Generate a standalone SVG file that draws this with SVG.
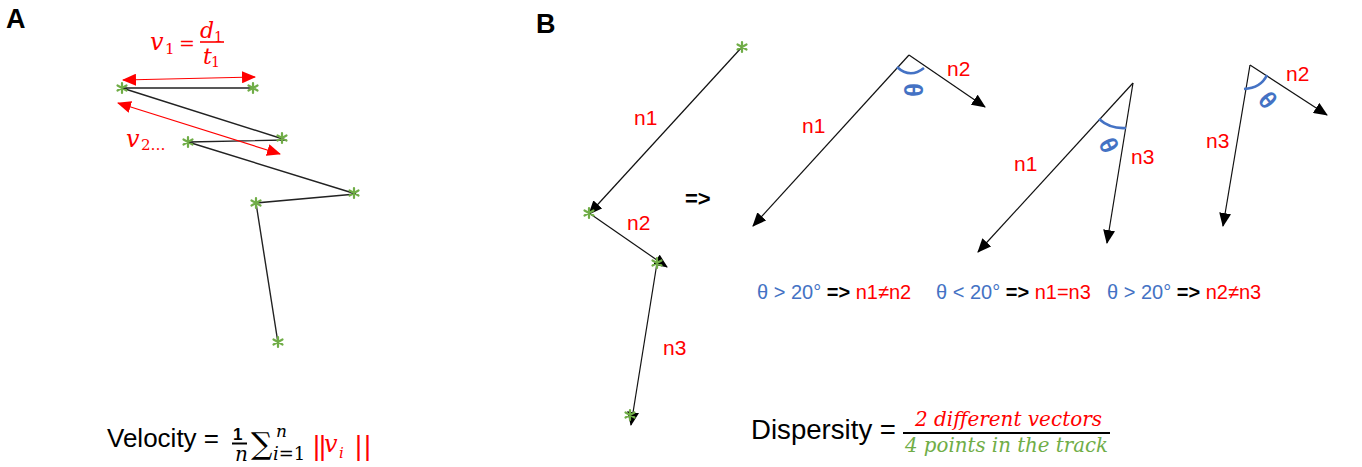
<svg xmlns="http://www.w3.org/2000/svg" width="1362" height="467" viewBox="0 0 1362 467">
<defs>
<style>
.sans{font-family:"Liberation Sans",Arial,sans-serif}
.math{font-family:"DejaVu Serif","Liberation Serif",serif;font-style:italic}
.up{font-family:"DejaVu Serif","Liberation Serif",serif;font-style:normal}
.red{fill:#FF0000}
.blue{fill:#4472C4}
.green{fill:#70AD47}
.blk{fill:#000}
.trk{stroke:#222;stroke-width:1.4;fill:none}
.vec{stroke:#111;stroke-width:1.2;fill:none;marker-end:url(#ah)}
.rvec{stroke:#FF0000;stroke-width:1.2;fill:none;marker-start:url(#rh);marker-end:url(#rh)}
.arc{stroke:#4472C4;stroke-width:2.6;fill:none}
.lbl{font-family:"Liberation Sans",Arial,sans-serif;font-size:21px;fill:#FF0000}
.th{font-family:"Liberation Sans",Arial,sans-serif;font-size:25px;fill:#4472C4;font-weight:bold}
.cond{font-family:"Liberation Sans",Arial,sans-serif;font-size:20px}
</style>
<marker id="ah" markerUnits="userSpaceOnUse" markerWidth="14" markerHeight="12" viewBox="0 0 14 12" refX="13" refY="6" orient="auto"><path d="M0,0 L14,6 L0,12 z" fill="#000"/></marker>
<marker id="rh" markerUnits="userSpaceOnUse" markerWidth="14" markerHeight="12" viewBox="0 0 14 12" refX="13" refY="6" orient="auto-start-reverse"><path d="M0,0 L14,6 L0,12 z" fill="#FF0000"/></marker>
<symbol id="st" viewBox="-6 -6 12 12" width="12" height="12" overflow="visible"><path d="M0,-5 L0,5 M-4.5,-2.5 L4.5,2.5 M-4.5,2.5 L4.5,-2.5" stroke="#70AD47" stroke-width="2.2" stroke-linecap="round"/></symbol>
</defs>
<rect width="1362" height="467" fill="#fff"/>

<g id="panelA-label"><text x="6" y="28" class="sans" font-size="27" font-weight="bold">A</text></g>
<g id="panelB-label"><text x="536" y="33" class="sans" font-size="27" font-weight="bold">B</text></g>

<g id="connectors">
  <polyline class="trk" points="253,88 122,88 286,140 188,142 356,194 256,203 278,343"/>
  <line class="rvec" x1="123" y1="80" x2="255" y2="77"/>
  <line class="rvec" x1="118" y1="103" x2="280" y2="154"/>
  <line class="vec" x1="742" y1="47" x2="589" y2="214"/>
  <line class="vec" x1="589" y1="213" x2="667" y2="267"/>
  <line class="vec" x1="657" y1="263" x2="631" y2="425"/>
  <line class="vec" x1="909" y1="55" x2="753" y2="226"/>
  <line class="vec" x1="909" y1="55" x2="985" y2="107"/>
  <line class="vec" x1="1133" y1="83" x2="978" y2="252"/>
  <line class="vec" x1="1133" y1="83" x2="1107" y2="243"/>
  <line class="vec" x1="1250" y1="65" x2="1223" y2="226"/>
  <line class="vec" x1="1250" y1="65" x2="1327" y2="115"/>
  <path class="arc" d="M897,67 Q910,79 924,68"/>
  <path class="arc" d="M1099,119 Q1110,129 1126,128"/>
  <path class="arc" d="M1244,89 Q1261,88 1267,75"/>
</g>

<g id="points-A">
  <use href="#st" x="116" y="82"/><use href="#st" x="247" y="82"/><use href="#st" x="276" y="132"/>
  <use href="#st" x="182" y="136"/><use href="#st" x="348" y="187"/><use href="#st" x="250" y="197"/>
  <use href="#st" x="272" y="336"/>
</g>
<g id="points-B">
  <use href="#st" x="736" y="41"/><use href="#st" x="583" y="207"/><use href="#st" x="651" y="257"/><use href="#st" x="624" y="409"/>
</g>

<g id="v1-formula" class="red">
  <text x="150" y="50" class="math" font-size="24">v</text>
  <text x="165" y="54" class="up" font-size="15">1</text>
  <text x="179" y="50" class="up" font-size="19">=</text>
  <text x="200" y="38" class="math" font-size="22">d</text>
  <text x="214" y="42" class="up" font-size="14">1</text>
  <line x1="200" y1="42" x2="224" y2="42" stroke="#FF0000" stroke-width="1.6"/>
  <text x="203" y="64" class="math" font-size="22">t</text>
  <text x="211" y="67" class="up" font-size="14">1</text>
</g>
<g id="v2-label" class="red">
  <text x="126" y="147" class="math" font-size="24">v</text>
  <text x="141" y="150" class="up" font-size="15">2…</text>
</g>

<g id="velocity">
  <text x="107" y="447" class="sans" font-size="26">Velocity =</text>
  <text x="233" y="440" class="sans" font-size="17" font-weight="bold">1</text>
  <line x1="232" y1="443.5" x2="247" y2="443.5" stroke="#000" stroke-width="2"/>
  <text x="235" y="461" class="math" font-size="20">n</text>
  <text x="251" y="454" class="up" font-size="30">∑</text>
  <text x="276" y="437" class="math" font-size="17">n</text>
  <text x="273" y="460" class="math" font-size="18">i<tspan class="up">=1</tspan></text>
  <text x="313" y="455" class="sans red" font-size="27" letter-spacing="-1">||</text>
  <text x="324" y="452" class="math red" font-size="24">v</text>
  <text x="339" y="458" class="math red" font-size="15">i</text>
  <text x="355" y="455" class="sans red" font-size="27" letter-spacing="2">||</text>
</g>

<g id="B-track-labels">
  <text x="634" y="125" class="lbl">n1</text>
  <text x="627" y="230" class="lbl">n2</text>
  <text x="663" y="355" class="lbl">n3</text>
  <text x="685" y="206" class="sans" font-size="22" font-weight="bold">=&gt;</text>
</g>

<g id="pair1">
  <text x="802" y="133" class="lbl">n1</text>
  <text x="947" y="76" class="lbl">n2</text>
  <text class="th" transform="translate(913,90) rotate(90)" text-anchor="middle" dy="9">θ</text>
</g>
<g id="pair2">
  <text x="1014" y="171" class="lbl">n1</text>
  <text x="1131" y="164" class="lbl">n3</text>
  <text class="th" transform="translate(1109,145) rotate(65)" text-anchor="middle" dy="9">θ</text>
</g>
<g id="pair3">
  <text x="1206" y="148" class="lbl">n3</text>
  <text x="1286" y="81" class="lbl">n2</text>
  <text class="th" transform="translate(1268,100) rotate(50)" text-anchor="middle" dy="9">θ</text>
</g>

<g id="conditions" class="cond">
  <text x="757" y="299"><tspan class="blue">θ &gt; 20°</tspan><tspan class="blk" font-weight="bold"> =&gt; </tspan><tspan class="red">n1≠n2</tspan></text>
  <text x="936" y="299"><tspan class="blue">θ &lt; 20°</tspan><tspan class="blk" font-weight="bold"> =&gt; </tspan><tspan class="red">n1=n3</tspan></text>
  <text x="1107" y="299"><tspan class="blue">θ &gt; 20°</tspan><tspan class="blk" font-weight="bold"> =&gt; </tspan><tspan class="red">n2≠n3</tspan></text>
</g>

<g id="dispersity">
  <text x="751" y="439" class="sans" font-size="27" textLength="145" lengthAdjust="spacingAndGlyphs">Dispersity =</text>
  <text x="915" y="426" class="math red" font-size="21" textLength="187" lengthAdjust="spacingAndGlyphs">2 different vectors</text>
  <line x1="903" y1="433" x2="1110" y2="433" stroke="#000" stroke-width="2"/>
  <text x="905" y="452" class="math green" font-size="21" textLength="203" lengthAdjust="spacingAndGlyphs">4 points in the track</text>
</g>
</svg>
